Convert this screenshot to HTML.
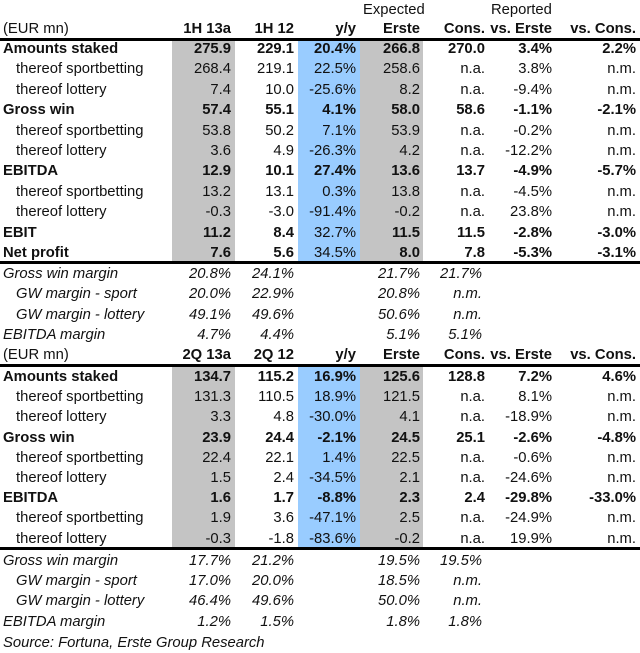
<!DOCTYPE html>
<html><head><meta charset="utf-8"><style>
body{margin:0;background:#fff;width:640px;height:651px;overflow:hidden;position:relative;font-family:"Liberation Sans",Arial,sans-serif;font-size:14.8px;color:#111}
.c{position:absolute;white-space:nowrap;line-height:20px;height:20px}
.r{text-align:right}
.b{font-weight:bold}
.i{font-style:italic}
.bg{position:absolute}
.ln{position:absolute;left:0;width:640px;background:#000}
</style></head><body>
<div id="root"></div>
<script>
// Column right edges
const colRight=[231,294,356,420,485,552,636];
const block1Rows=[
 ["Amounts staked",1,["275.9","229.1","20.4%","266.8","270.0","3.4%","2.2%"]],
 ["thereof sportbetting",0,["268.4","219.1","22.5%","258.6","n.a.","3.8%","n.m."]],
 ["thereof lottery",0,["7.4","10.0","-25.6%","8.2","n.a.","-9.4%","n.m."]],
 ["Gross win",1,["57.4","55.1","4.1%","58.0","58.6","-1.1%","-2.1%"]],
 ["thereof sportbetting",0,["53.8","50.2","7.1%","53.9","n.a.","-0.2%","n.m."]],
 ["thereof lottery",0,["3.6","4.9","-26.3%","4.2","n.a.","-12.2%","n.m."]],
 ["EBITDA",1,["12.9","10.1","27.4%","13.6","13.7","-4.9%","-5.7%"]],
 ["thereof sportbetting",0,["13.2","13.1","0.3%","13.8","n.a.","-4.5%","n.m."]],
 ["thereof lottery",0,["-0.3","-3.0","-91.4%","-0.2","n.a.","23.8%","n.m."]],
 ["EBIT",2,["11.2","8.4","32.7%","11.5","11.5","-2.8%","-3.0%"]],
 ["Net profit",2,["7.6","5.6","34.5%","8.0","7.8","-5.3%","-3.1%"]]
];
const margins1=[
 ["Gross win margin",0,["20.8%","24.1%","","21.7%","21.7%"]],
 ["GW margin - sport",1,["20.0%","22.9%","","20.8%","n.m."]],
 ["GW margin - lottery",1,["49.1%","49.6%","","50.6%","n.m."]],
 ["EBITDA margin",0,["4.7%","4.4%","","5.1%","5.1%"]]
];
const block2Rows=[
 ["Amounts staked",1,["134.7","115.2","16.9%","125.6","128.8","7.2%","4.6%"]],
 ["thereof sportbetting",0,["131.3","110.5","18.9%","121.5","n.a.","8.1%","n.m."]],
 ["thereof lottery",0,["3.3","4.8","-30.0%","4.1","n.a.","-18.9%","n.m."]],
 ["Gross win",1,["23.9","24.4","-2.1%","24.5","25.1","-2.6%","-4.8%"]],
 ["thereof sportbetting",0,["22.4","22.1","1.4%","22.5","n.a.","-0.6%","n.m."]],
 ["thereof lottery",0,["1.5","2.4","-34.5%","2.1","n.a.","-24.6%","n.m."]],
 ["EBITDA",1,["1.6","1.7","-8.8%","2.3","2.4","-29.8%","-33.0%"]],
 ["thereof sportbetting",0,["1.9","3.6","-47.1%","2.5","n.a.","-24.9%","n.m."]],
 ["thereof lottery",0,["-0.3","-1.8","-83.6%","-0.2","n.a.","19.9%","n.m."]]
];
const margins2=[
 ["Gross win margin",0,["17.7%","21.2%","","19.5%","19.5%"]],
 ["GW margin - sport",1,["17.0%","20.0%","","18.5%","n.m."]],
 ["GW margin - lottery",1,["46.4%","49.6%","","50.0%","n.m."]],
 ["EBITDA margin",0,["1.2%","1.5%","","1.8%","1.8%"]]
];
const header1=["1H 13a","1H 12","y/y","Erste","Cons.","vs. Erste","vs. Cons."];
const header2=["2Q 13a","2Q 12","y/y","Erste","Cons.","vs. Erste","vs. Cons."];
const root=document.getElementById('root');
function div(cls,txt,x,y,w,name){
 const d=document.createElement('div');d.className=cls;
 d.style.left=x+'px';d.style.top=y+'px';if(w)d.style.width=w+'px';
 if(txt!==null)d.textContent=txt;
 
 
 root.appendChild(d);return d;
}
function bgs(top,bottom,n){
 const specs=[[172,235,'#c4c4c4'],[298,360,'#99ccff'],[360,423,'#c4c4c4']];
 specs.forEach((s,k)=>{const d=div('bg',null,s[0],top,s[1]-s[0],'shaded-column-'+n+'-'+k);d.style.height=(bottom-top)+'px';d.style.background=s[2];});
}
function line(y,h,n){const d=div('ln',null,0,y,null,n);d.style.height=h+'px';}
function header(y,hdr,n){
 div('c','(EUR mn)',3,y,null,'unit-label-'+n);
 hdr.forEach((t,k)=>{const w=90;div('c r b',t,colRight[k]-w,y,w,'column-header-'+n+'-'+k);});
}
function rows(data,y0,step,n){
 data.forEach((r,i)=>{
  const y=y0+i*step;const bold=r[1]>0;
  div('c'+(bold?' b':''),r[0],r[1]==0?16:3,y,null,'row-label-'+n+'-'+i);
  r[2].forEach((v,k)=>{const w=80;const b=(r[1]==1)||(r[1]==2&&k!=2);div('c r'+(b?' b':''),v,colRight[k]-w,y,w,'cell-'+n+'-'+i+'-'+k);});
 });
}
function margins(data,y0,step,n){
 data.forEach((r,i)=>{
  const y=y0+i*step;
  div('c i',r[0],r[1]?16:3,y,null,'margin-label-'+n+'-'+i);
  r[2].forEach((v,k)=>{if(!v)return;const w=80;div('c r i',v,colRight[k]-w+(k==4?-3:0),y,w,'margin-cell-'+n+'-'+i+'-'+k);});
 });
}
bgs(40,262,1);
div('c','Expected',363,0,null,'expected-header');
div('c','Reported',491,0,null,'reported-header');
header(19,header1,1);
line(38,3,'header-rule-1');
rows(block1Rows,39,20.4,1);
line(261,3,'block-rule-1');
margins(margins1,264,20.4,1);
header(345,header2,2);
bgs(366,548,2);
line(364,3,'header-rule-2');
rows(block2Rows,367,20.2,2);
line(547,3,'block-rule-2');
margins(margins2,551,20.2,2);
div('c i','Source: Fortuna, Erste Group Research',3,633,null,'source-note');
</script>
</body></html>
